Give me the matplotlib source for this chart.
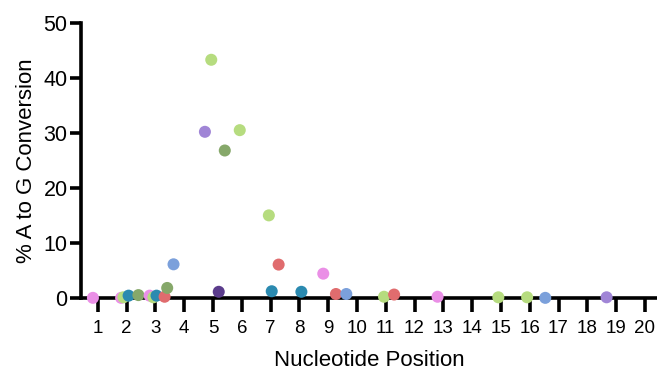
import matplotlib
matplotlib.use("Agg")
import matplotlib.pyplot as plt

# nucleotide position (x), % A to G conversion (y), dot colour
positions = [0.83, 1.81, 1.89, 2.07, 2.41, 2.80, 2.93, 3.04, 3.32, 3.41, 3.63,
             4.72, 4.94, 5.20, 5.41, 5.93, 6.94, 7.04, 7.28, 8.07, 8.83, 9.27, 9.63,
             10.94, 11.29, 12.80, 14.91, 15.91, 16.54, 18.67]
values = [0.0, 0.0, 0.1, 0.4, 0.5, 0.4, 0.1, 0.4, 0.2, 1.8, 6.1,
          30.2, 43.3, 1.1, 26.8, 30.5, 15.0, 1.2, 6.05, 1.1, 4.4, 0.7, 0.7,
          0.2, 0.6, 0.2, 0.1, 0.1, 0.0, 0.1]
colors = ["#EA8FE6", "#EA8FE6", "#B6DC7F", "#2B8AB0", "#86A86A", "#EA8FE6", "#B6DC7F",
          "#2B8AB0", "#E06C6E", "#86A86A", "#7BA0DB",
          "#A085D6", "#B6DC7F", "#5B3C8C", "#86A86A", "#B6DC7F", "#B6DC7F", "#2B8AB0",
          "#E06C6E", "#2B8AB0", "#EA8FE6", "#E06C6E", "#7BA0DB",
          "#B6DC7F", "#E06C6E", "#EA8FE6", "#B6DC7F", "#B6DC7F", "#7BA0DB", "#A085D6"]
xticks = list(range(1, 21))
yticks = [0, 10, 20, 30, 40, 50]

plt.rcParams['font.family'] = ['Liberation Sans', 'DejaVu Sans']

fig = plt.figure(figsize=(6.57, 3.70), dpi=100)
ax = fig.add_axes([0.123, 0.195, 0.877, 0.743])

ax.scatter(positions, values, c=colors, s=75, linewidths=0, zorder=3, clip_on=False)

ax.set_xlim(0.41, 20.42)
ax.set_ylim(0, 50)
ax.set_xticks(xticks)
ax.set_yticks(yticks)

for side in ["top", "right"]:
    ax.spines[side].set_visible(False)
for side in ["left", "bottom"]:
    ax.spines[side].set_linewidth(2.6)
ax.tick_params(axis="x", length=10, width=2.6, labelsize=13.5, pad=6)
ax.tick_params(axis="y", length=8, width=2.6, labelsize=15.5, pad=1.5)

ax.set_xlabel("Nucleotide Position", fontsize=16, labelpad=9)
ax.set_ylabel("% A to G Conversion", fontsize=16, labelpad=5)

fig.savefig("out.png", dpi=100)
